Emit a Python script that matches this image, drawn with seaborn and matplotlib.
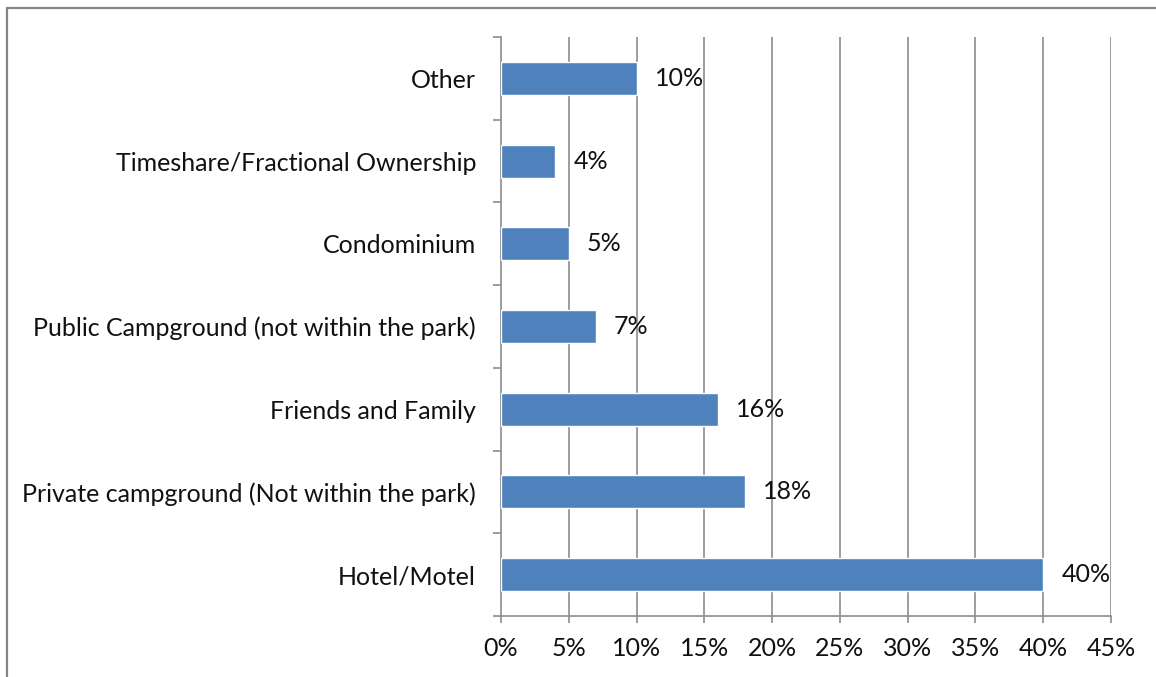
import matplotlib
matplotlib.use("Agg")
import matplotlib.pyplot as plt
from matplotlib.lines import Line2D
import seaborn as sns
import pandas as pd
import numpy as np

categories = [
    "Other",
    "Timeshare/Fractional Ownership",
    "Condominium",
    "Public Campground (not within the park)",
    "Friends and Family",
    "Private campground (Not within the park)",
    "Hotel/Motel",
]
shares = [10, 4, 5, 7, 16, 18, 40]
x_ticks = [0, 5, 10, 15, 20, 25, 30, 35, 40, 45]

sns.set_theme(style="white")
plt.rcParams["font.family"] = ["Lato", "DejaVu Sans"]

df = pd.DataFrame({"category": categories, "share": shares})

fig = plt.figure(figsize=(11.56, 6.77), dpi=100)
ax = fig.add_axes([501 / 1156, 1 - 616 / 677, 610 / 1156, 579 / 677])

grid_c = "#8c8c8c"
text_c = "#111111"
fs = 18
sns.barplot(data=df, y="category", x="share", order=categories, orient="h",
            color="#4F81BD", saturation=1, width=0.4, ax=ax, zorder=3)

ax.set_xlim(0, 45)
ax.set_ylim(len(categories) - 0.5, -0.5)
ax.set_xticks(x_ticks)
ax.set_xticklabels([f"{t}%" for t in x_ticks], fontsize=fs, color=text_c)
ax.set_xlabel("")
ax.set_ylabel("")

# category labels at bar centers, tick marks at category boundaries
ax.set_yticks(range(len(categories)))
ax.set_yticklabels(categories, fontsize=fs, color=text_c)
ax.set_yticks(np.arange(-0.5, len(categories), 1), minor=True)
ax.tick_params(axis="y", which="major", length=0, pad=18)
ax.tick_params(axis="y", which="minor", length=6, width=1.2, color=grid_c, direction="out", left=True)
ax.tick_params(axis="x", which="major", length=5, width=1.2, color=grid_c, direction="out", pad=10, bottom=True)

for t in x_ticks[1:]:
    ax.axvline(t, color=grid_c, linewidth=1.2, zorder=1)

for side in ["top", "right"]:
    ax.spines[side].set_visible(False)
for side in ["left", "bottom"]:
    ax.spines[side].set_color(grid_c)
    ax.spines[side].set_linewidth(1.2)
ax.spines["bottom"].set_zorder(4)

# value labels just past each bar end
for i, v in enumerate(shares):
    ax.annotate(f"{v}%", xy=(v, i), xytext=(13, 0), textcoords="offset points",
                va="center", ha="left", fontsize=fs, color=text_c)

# outer chart frame
fig.add_artist(Line2D([7 / 1156, 7 / 1156], [0, 1 - 8 / 677], transform=fig.transFigure,
                      color="#868686", linewidth=1.6))
fig.add_artist(Line2D([7 / 1156, 1], [1 - 8 / 677, 1 - 8 / 677], transform=fig.transFigure,
                      color="#868686", linewidth=1.6))

fig.savefig("out.png", dpi=100)
